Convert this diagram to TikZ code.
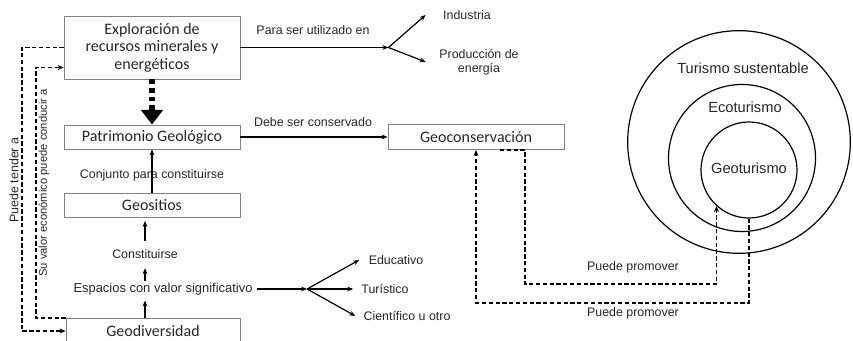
\documentclass[tikz,border=0pt]{standalone}
\usepackage{fontspec}
\setmainfont{Liberation Sans}
\newfontfamily\boxfont{Carlito}
\usepackage{tikz}
\usetikzlibrary{arrows.meta}
\definecolor{MapLine}{HTML}{808080}
\definecolor{MapInk}{HTML}{262626}

\begin{document}
\begin{tikzpicture}[x=0.75pt,y=-0.75pt,
  concept/.style={draw=MapLine,line width=0.6pt,rectangle,inner sep=0pt,minimum width=132pt,align=center,text=MapInk,font=\boxfont\fontsize{12}{13}\selectfont},
  lbl/.style={font=\fontsize{9.3}{10.5}\selectfont,inner sep=1pt,align=center,text=MapInk},
  link/.style={line width=0.9pt,-{Stealth[length=4.5pt,width=3.6pt]}},
  promo/.style={line width=1.4pt,dash pattern=on 3.2pt off 1.9pt,-{Stealth[length=4.5pt,width=3.8pt]}},
  ring/.style={draw,circle,line width=0.9pt,inner sep=0pt}]
\path[use as bounding box] (0,0) rectangle (853,341);
% boxes
\node[concept,minimum height=47.25pt] (explo) at (152,47.5) {Exploración de\\recursos minerales y\\energéticos};
\node[concept,minimum height=18pt] (patri) at (152,137) {Patrimonio Geológico};
\node[concept,minimum height=18.5pt] (geosit) at (152,205.5) {Geositios};
\node[concept,minimum width=130.5pt,minimum height=19.5pt] (geodiv) at (153,331) {Geodiversidad};
\node[concept,minimum height=19pt] (geocons) at (476,137) {Geoconservación};
% nested circles
\node[ring,minimum size=167pt] (turis) at (739,142) {};
\node[ring,minimum size=110.25pt] (ecotur) at (742,158) {};
\node[ring,minimum size=72pt] (geotur) at (749,170) {};
\node[text=MapInk,font=\fontsize{11}{13}\selectfont] (turislbl) at (743,68) {Turismo sustentable};
\node[text=MapInk,font=\fontsize{11}{13}\selectfont] (ecoturlbl) at (745,107) {Ecoturismo};
\node[text=MapInk,font=\fontsize{11}{13}\selectfont] (geoturlbl) at (749,168) {Geoturismo};
% labels
\node[lbl] (uso) at (313,30) {Para ser utilizado en};
\node[lbl] (indus) at (467,15) {Industria};
\node[lbl] (energ) at (479,62) {Producción de\\energía};
\node[lbl] (conserv) at (313,122) {Debe ser conservado};
\node[lbl] (conj) at (152,175) {Conjunto para constituirse};
\node[lbl] (constit) at (145,254) {Constituirse};
\node[lbl,font=\fontsize{9.7}{11}\selectfont] (espac) at (163,289) {Espacios con valor significativo};
\node[lbl] (educ) at (396,260) {Educativo};
\node[lbl] (turist) at (385,289) {Turístico};
\node[lbl] (cient) at (407,316) {Científico u otro};
\node[lbl] (prom1) at (633,267) {Puede promover};
\node[lbl] (prom2) at (633,313) {Puede promover};
\node[lbl,rotate=90] (tender) at (14,180) {Puede tender a};
\node[lbl,rotate=90,font=\fontsize{8.4}{10}\selectfont] (valor) at (44,183) {Su valor económico puede conducir a};
% connectors
\draw[link] (explo.east) -- ++(148,0) coordinate (split1);
\draw[link] (split1) -- ([xshift=-12pt]indus.west);
\draw[link] (split1) -- ([xshift=-9pt]energ.west);
\draw[line width=4.5pt,dash pattern=on 3.5pt off 3pt,-{Triangle[width=16pt,length=11pt]}] (explo.south) -- (patri.north);
\draw[link] (patri.east) -- (geocons.west);
\draw[link] (geosit.north) -- (patri.south);
\draw[link,shorten <=5pt,shorten >=2pt] (constit.north) -- (constit.north |- geosit.south);
\draw[link,shorten >=6pt] (constit.south |- espac.north) -- (constit.south);
\draw[link,shorten >=3pt] (geodiv.north -| constit) -- (espac.south -| constit);
\draw[link,shorten <=2pt] (espac.east) -- ++(53,0) coordinate (split2);
\draw[link] (split2) -- ([xshift=-6pt]educ.west);
\draw[link] (split2) -- ([xshift=-5pt]turist.west);
\draw[link] (split2) -- ([xshift=-5pt]cient.west);
% dashed links
\draw[promo] (explo.west) -- ++(-42,0) |- (geodiv.west);
\draw[promo] (geodiv.north west) -- ++(-30,0) |- ([yshift=-15pt]explo.west);
\draw[promo] ([xshift=18pt]geocons.south) -- ([xshift=36.75pt]geocons.south) -- ++(0,134) -| (geotur.228);
\draw[promo] (geotur.south) -- ++(0,84) -| (geocons.south);
\end{tikzpicture}
\end{document}
